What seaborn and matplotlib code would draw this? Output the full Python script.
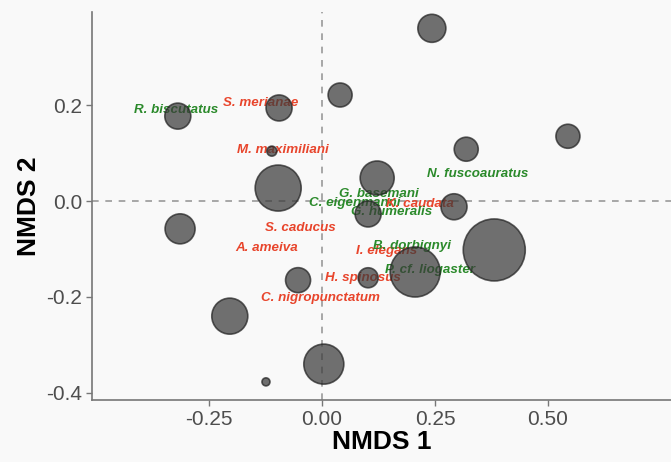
import matplotlib
matplotlib.use("Agg")
import matplotlib.pyplot as plt
import seaborn as sns
import pandas as pd

# site scores (NMDS1, NMDS2) and bubble radii (px)
nmds1 = [0.243, 0.040, -0.095, -0.319, 0.544, 0.319, -0.111, -0.097, 0.122, 0.292,
         0.102, -0.314, 0.381, 0.206, -0.053, 0.102, -0.204, 0.004, -0.124]
nmds2 = [0.360, 0.221, 0.194, 0.177, 0.135, 0.108, 0.104, 0.027, 0.048, -0.012,
         -0.027, -0.058, -0.102, -0.148, -0.165, -0.160, -0.240, -0.340, -0.377]
radius = [14, 12, 13, 13, 12, 12, 5, 23, 17, 13, 13, 15, 31, 25, 12.5, 10, 18, 20, 4]

# species labels
species = ["R. biscutatus", "S. merianae", "M. maximiliani", "N. fuscoauratus",
           "G. basemani", "C. eigenmanni", "K. caudata", "G. humeralis",
           "S. caducus", "A. ameiva", "I. elegans", "B. dorbignyi",
           "P. cf. liogaster", "H. spinosus", "C. nigropunctatum"]
sp_x = [-0.322, -0.135, -0.087, 0.344, 0.125, 0.073, 0.217, 0.155,
        -0.047, -0.122, 0.144, 0.200, 0.239, 0.091, -0.004]
sp_y = [0.190, 0.204, 0.106, 0.056, 0.015, -0.004, -0.006, -0.023,
        -0.056, -0.098, -0.104, -0.094, -0.144, -0.160, -0.202]
sp_group = ["green", "red", "red", "green", "green", "green", "red", "green",
            "red", "red", "red", "green", "green", "red", "red"]

df = pd.DataFrame({"NMDS1": nmds1, "NMDS2": nmds2,
                   "area": [(r * 2 * 0.72) ** 2 for r in radius]})

sns.set_style("white")
plt.rcParams["font.family"] = ["Liberation Sans", "DejaVu Sans"]

fig = plt.figure(figsize=(6.71, 4.62), dpi=100, facecolor="#f9f9f9")
ax = fig.add_axes([0.137, 0.134, 0.863, 0.84])
ax.set_facecolor("#f9f9f9")

ax.axhline(0, color="#999999", lw=1.2, ls=(0, (4, 4)), zorder=0)
ax.axvline(0, color="#999999", lw=1.2, ls=(0, (4, 4)), zorder=0)

colmap = {"green": "#2b8a2b", "red": "#e8452c"}
for name, x, y, g in zip(species, sp_x, sp_y, sp_group):
    ax.text(x, y, name, color=colmap[g], fontsize=9.6, fontweight="bold",
            fontstyle="italic", ha="center", va="center", zorder=1)

sns.scatterplot(data=df, x="NMDS1", y="NMDS2", size="area",
                sizes=(df["area"].min(), df["area"].max()),
                color="#3a3a3a", edgecolor="#222222", linewidth=1.2,
                alpha=0.72, legend=False, ax=ax, zorder=2)

ax.set_xlim(-0.509, 0.772)
ax.set_ylim(-0.415, 0.394)
ax.set_xticks([-0.25, 0.0, 0.25, 0.5])
ax.set_xticklabels(["-0.25", "0.00", "0.25", "0.50"])
ax.set_yticks([-0.4, -0.2, 0.0, 0.2])
ax.set_yticklabels(["-0.4", "-0.2", "0.0", "0.2"])
ax.tick_params(axis="both", labelsize=15, labelcolor="#4d4d4d", color="#777777",
               length=4, width=1, direction="out", bottom=True, left=True, pad=3)
for s in ["top", "right"]:
    ax.spines[s].set_visible(False)
for s in ["left", "bottom"]:
    ax.spines[s].set_color("#777777")
    ax.spines[s].set_linewidth(1.2)

ax.set_xlabel("NMDS 1", fontsize=19, fontweight="bold", color="black", labelpad=1)
ax.set_ylabel("NMDS 2", fontsize=19, fontweight="bold", color="black", labelpad=4)

fig.savefig("out.png", dpi=100, facecolor=fig.get_facecolor())
